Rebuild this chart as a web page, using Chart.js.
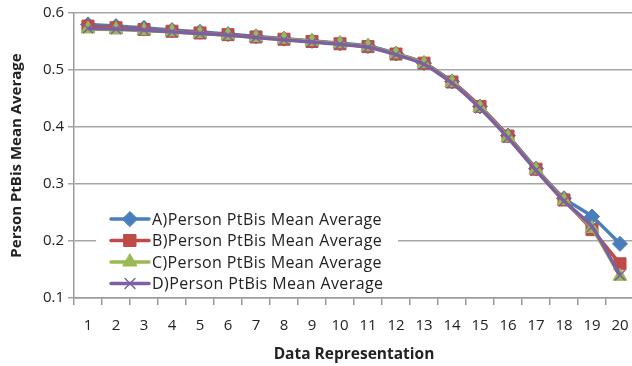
<!DOCTYPE html>
<html>
<head>
<meta charset="utf-8">
<script src="https://cdn.jsdelivr.net/npm/chart.js@4.4.0/dist/chart.umd.min.js"></script>
<style>
  html, body { margin: 0; padding: 0; background: #fff; overflow: hidden; }
  #wrap { width: 646px; height: 366px; }
</style>
</head>
<body>
<div id="wrap"><canvas id="chart1"></canvas></div>
<script>
// categories along x
var reps = ["1", "2", "3", "4", "5", "6", "7", "8", "9", "10", "11", "12", "13", "14", "15", "16", "17", "18", "19", "20"];

// PtBis mean averages per series
var seriesA = [0.580, 0.577, 0.574, 0.570, 0.567, 0.563, 0.559, 0.555, 0.551, 0.547, 0.542, 0.529, 0.512, 0.480, 0.436, 0.385, 0.327, 0.275, 0.243, 0.195];
var seriesB = [0.577, 0.574, 0.571, 0.568, 0.565, 0.562, 0.558, 0.554, 0.550, 0.546, 0.541, 0.528, 0.512, 0.479, 0.436, 0.384, 0.326, 0.272, 0.220, 0.160];
var seriesC = [0.572, 0.571, 0.569, 0.567, 0.564, 0.561, 0.557, 0.554, 0.550, 0.546, 0.541, 0.528, 0.511, 0.478, 0.434, 0.382, 0.325, 0.271, 0.222, 0.138];
var seriesD = [0.573, 0.572, 0.570, 0.567, 0.564, 0.561, 0.557, 0.553, 0.549, 0.545, 0.540, 0.527, 0.510, 0.477, 0.433, 0.381, 0.324, 0.270, 0.225, 0.140];

var seriesNames = ["A)Person PtBis Mean Average", "B)Person PtBis Mean Average", "C)Person PtBis Mean Average", "D)Person PtBis Mean Average"];

var FONT = "'Open Sans', 'Noto Sans', sans-serif";

function line(label, data, color, style, radius, order) {
	return {
		label: label,
		data: data,
		borderColor: color,
		backgroundColor: color,
		borderWidth: 3.5,
		pointStyle: style,
		pointRadius: radius,
		pointBorderWidth: style === "crossRot" ? 1.5 : 1,
		pointBackgroundColor: color,
		pointBorderColor: color,
		tension: 0.2,
		order: order
	};
}

// legend box sitting inside the plot, over the lower gridlines
var insideLegend = {
	id: "insideLegend",
	afterDatasetsDraw: function(chart) {
		var ctx = chart.ctx;
		var x0 = 96, y0 = 207, w = 302, h = 87;
		ctx.save();
		ctx.fillStyle = "#fff";
		ctx.fillRect(x0, y0, w, h);
		var rows = [219, 240.5, 262, 283.5];
		chart.data.datasets.forEach(function(ds, i) {
			var y = rows[i];
			ctx.strokeStyle = ds.borderColor;
			ctx.lineWidth = 3.5;
			ctx.lineCap = "round";
			ctx.beginPath();
			ctx.moveTo(111, y);
			ctx.lineTo(149, y);
			ctx.stroke();
			ctx.fillStyle = ds.backgroundColor;
			ctx.lineWidth = ds.pointBorderWidth;
			Chart.helpers.drawPoint(ctx, { pointStyle: ds.pointStyle, radius: ds.pointRadius, rotation: 0, borderWidth: ds.pointBorderWidth }, 130, y);
			ctx.fillStyle = "#222";
			ctx.font = "16px " + FONT;
			ctx.letterSpacing = "0.4px";
			ctx.textBaseline = "middle";
			ctx.textAlign = "left";
			ctx.fillText(ds.label, 152, y + 1);
			ctx.letterSpacing = "0px";
		});
		ctx.restore();
	}
};

var chart = new Chart(document.getElementById("chart1"), {
	type: "line",
	data: {
		labels: reps,
		datasets: [
			line(seriesNames[0], seriesA, "#4A7EBB", "rectRot", 7.5, 4),
			line(seriesNames[1], seriesB, "#BE4B48", "rect", 8.5, 3),
			line(seriesNames[2], seriesC, "#98B954", "triangle", 8, 2),
			line(seriesNames[3], seriesD, "#7D60A0", "crossRot", 7, 1)
		]
	},
	options: {
		responsive: true,
		maintainAspectRatio: false,
		animation: false,
		layout: { padding: { top: 13, right: 12, bottom: 0, left: 0 } },
		plugins: {
			legend: { display: false },
			tooltip: { enabled: false }
		},
		scales: {
			x: {
				offset: true,
				afterFit: function(s) { s.height = 68; },
				grid: {
					offset: true,
					drawOnChartArea: false,
					tickLength: 7,
					color: "#9a9a9a",
					lineWidth: 1.5
				},
				border: { color: "#9a9a9a", width: 1.5 },
				ticks: {
					color: "#222",
					font: { family: FONT, size: 15 },
					padding: 12,
					maxRotation: 0,
					autoSkip: false
				},
				title: {
					display: true,
					text: "Data Representation",
					color: "#222",
					font: { family: FONT, size: 15.5, weight: "bold" },
					padding: { top: 0, bottom: 2 }
				}
			},
			y: {
				min: 0.1,
				max: 0.6,
				afterFit: function(s) { s.width = 74; },
				grid: {
					color: "#a6a6a6",
					lineWidth: 1.5,
					tickLength: 6
				},
				border: { color: "#9a9a9a", width: 1.5 },
				ticks: {
					stepSize: 0.1,
					color: "#222",
					font: { family: FONT, size: 15 },
					padding: 4,
					callback: function(v) { return v.toFixed(1); }
				},
				title: {
					display: true,
					text: "Person PtBis Mean Average",
					color: "#222",
					font: { family: FONT, size: 15, weight: "bold" },
					padding: { top: 8, bottom: 0 }
				}
			}
		}
	},
	plugins: [insideLegend]
});
</script>
</body>
</html>
